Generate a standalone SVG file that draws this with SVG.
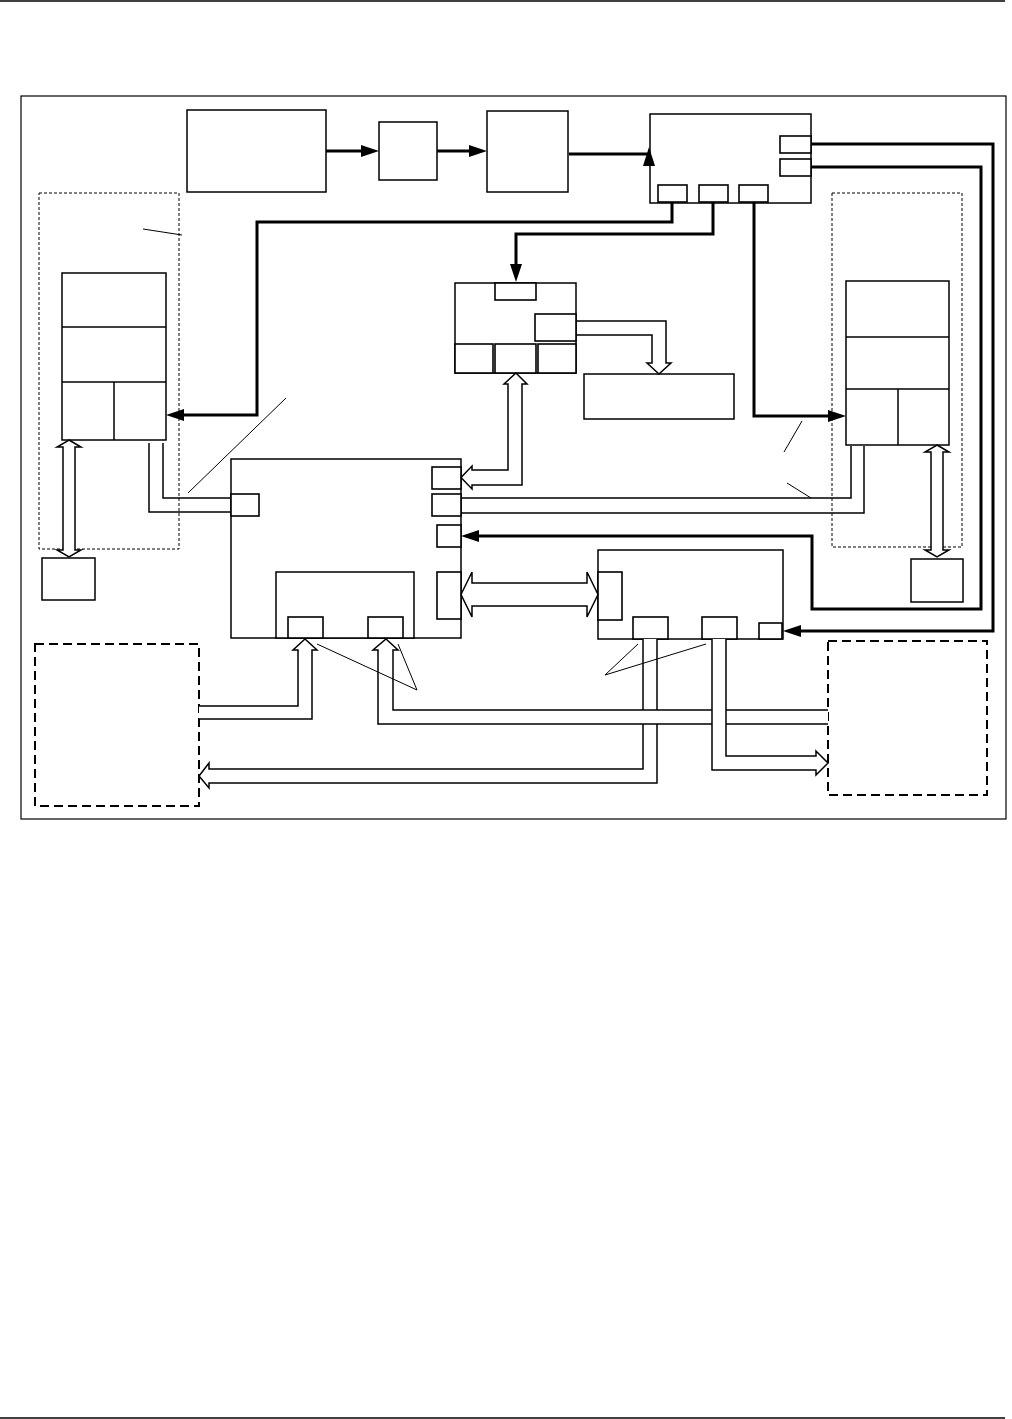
<svg xmlns="http://www.w3.org/2000/svg" width="1012" height="1419" viewBox="0 0 1012 1419">
<style>
.box{fill:#fff;stroke:#000;stroke-width:1.5}
.thin{fill:none;stroke:#000;stroke-width:1.2}
.port{fill:#fff;stroke:#000;stroke-width:1.6}
.dot{fill:none;stroke:#000;stroke-width:1;stroke-dasharray:3,2}
.dash{fill:none;stroke:#000;stroke-width:2;stroke-dasharray:9,5}
.bus{fill:none;stroke:#000;stroke-width:3;stroke-linejoin:miter}
.hollow{fill:#fff;stroke:#000;stroke-width:1.5;stroke-linejoin:miter}
.lead{fill:none;stroke:#000;stroke-width:1}
.line{fill:none;stroke:#000;stroke-width:1.5}
</style>
<defs>
<marker id="ah" markerUnits="userSpaceOnUse" markerWidth="18" markerHeight="12" refX="9" refY="6" orient="auto" viewBox="0 0 18 12">
<path d="M0,0 L18,6 L0,12 z" fill="#000"/>
</marker>
</defs>
<rect width="1012" height="1419" fill="#fff"/>
<line x1="0" y1="1" x2="1005" y2="1" stroke="#000" stroke-width="1.5"/>
<line x1="0" y1="1418" x2="1005" y2="1418" stroke="#000" stroke-width="1.5"/>
<rect id="frame" x="21" y="96" width="985" height="723" class="thin"/>

<g id="containers">
<rect x="39" y="193" width="140" height="356" class="dot"/>
<rect x="832" y="193" width="130" height="354" class="dot"/>
<rect x="35" y="644" width="164" height="162" class="dash"/>
<rect x="828" y="641" width="159" height="154" class="dash"/>
</g>

<g id="nodeA"><rect x="187" y="110" width="139" height="82" class="box"/></g>
<g id="nodeB"><rect x="379" y="122" width="58" height="58" class="box"/></g>
<g id="nodeC"><rect x="487" y="111" width="81" height="81" class="box"/></g>
<g id="nodeD">
<rect x="650" y="114" width="161" height="89" class="box"/>
<rect x="780" y="136" width="31" height="17" class="port"/>
<rect x="780" y="159" width="31" height="17" class="port"/>
<rect x="658" y="185" width="29" height="17" class="port"/>
<rect x="699" y="185" width="29" height="17" class="port"/>
<rect x="739" y="185" width="29" height="17" class="port"/>
</g>
<g id="nodeE">
<rect x="62" y="273" width="104" height="167" class="box"/>
<line x1="62" y1="327" x2="166" y2="327" class="line"/>
<line x1="62" y1="382" x2="166" y2="382" class="line"/>
<line x1="114" y1="382" x2="114" y2="440" class="line"/>
</g>
<g id="nodeE2">
<rect x="846" y="281" width="103" height="164" class="box"/>
<line x1="846" y1="337" x2="949" y2="337" class="line"/>
<line x1="846" y1="389" x2="949" y2="389" class="line"/>
<line x1="898" y1="389" x2="898" y2="445" class="line"/>
</g>
<g id="nodeE3"><rect x="42" y="558" width="53" height="42" class="box"/></g>
<g id="nodeE4"><rect x="911" y="559" width="52" height="43" class="box"/></g>
<g id="nodeF">
<rect x="455" y="283" width="121" height="90" class="box"/>
<rect x="495" y="283" width="41" height="17" class="port"/>
<rect x="535" y="314" width="41" height="27" class="port"/>
<rect x="455" y="344" width="38" height="29" class="port"/>
<rect x="495" y="344" width="41" height="29" class="port"/>
<rect x="538" y="344" width="38" height="29" class="port"/>
</g>
<g id="nodeJ"><rect x="584" y="374" width="150" height="45" class="box"/></g>
<g id="nodeH">
<rect x="231" y="459" width="230" height="179" class="box" stroke-width="1.2"/>
<rect x="231" y="494" width="28" height="22" class="port"/>
<rect x="432" y="467" width="29" height="22" class="port"/>
<rect x="432" y="494" width="29" height="22" class="port"/>
<rect x="437" y="525" width="24" height="22" class="port"/>
<rect x="437" y="572" width="24" height="47" class="port"/>
<rect x="276" y="572" width="138" height="66" class="box"/>
<rect x="288" y="617" width="35" height="21" class="port"/>
<rect x="368" y="617" width="35" height="21" class="port" stroke-width="2"/>
</g>
<g id="nodeG">
<rect x="598" y="550" width="185" height="89" class="box"/>
<rect x="598" y="572" width="24" height="48" class="port"/>
<rect x="633" y="617" width="35" height="22" class="port"/>
<rect x="702" y="617" width="35" height="22" class="port"/>
<rect x="759" y="623" width="23" height="16" class="port" stroke-width="2"/>
</g>

<g id="connectors">
<path class="bus" d="M326,151 H370" marker-end="url(#ah)"/>
<path class="bus" d="M437,151 H478" marker-end="url(#ah)"/>
<path class="bus" d="M569,154 H650"/>
<polygon points="649,147 643,166 655,166" fill="#000"/>
<path class="bus" d="M672,202 V222 H257 V415 H175" marker-end="url(#ah)"/>
<path class="bus" d="M713,202 V234 H516 V273" marker-end="url(#ah)"/>
<path class="bus" d="M754,202 V416 H837" marker-end="url(#ah)"/>
<path class="bus" d="M811,144 H993 V631 H792" marker-end="url(#ah)"/>
<path class="bus" d="M811,167 H981 V609 H812 V536 H470" marker-end="url(#ah)"/>

<polyline class="hollow" points="577,321 666,321 666,363 671,363 659,374 647,363 652,363 652,335 577,335"/>
<polygon class="hollow" points="504,384 516,373 527,384 522,384 522,485 472,485 472,489 461,477.5 472,466 472,470 508,470 508,384"/>
<polygon class="hollow" points="461,594.5 472,572 472,583 587,583 587,572 598,594.5 587,617 587,606 472,606 472,617"/>
<polygon class="hollow" points="69,440 81,447 75,447 75,550 81,550 69,557 57,550 63,550 63,447 57,447"/>
<polygon class="hollow" points="937,445 949,452 943,452 943,550 949,550 937,557 925,550 931,550 931,452 925,452"/>

<polyline class="line" points="149,443 149,512 231,512"/>
<polyline class="line" points="163,443 163,498 231,498"/>
<polyline class="line" points="461,498 851,498 851,446"/>
<polyline class="line" points="461,513 864,513 864,446"/>

<polyline class="hollow" points="199,706 298,706 298,650 293,650 305,639 317,650 312,650 312,719 199,719"/>
<polyline class="hollow" points="643,639 643,769 209,769 209,763 199,776 209,788 209,783 657,783 657,639"/>
<polyline class="hollow" points="828,724 378,724 378,650 373,650 386,639 398,650 393,650 393,710 828,710"/>
<polyline class="hollow" points="712,639 712,770 816,770 816,775 828,763 816,751 816,756 726,756 726,639"/>

<line class="lead" x1="143" y1="229" x2="182" y2="235"/>
<line class="lead" x1="188" y1="493" x2="286" y2="398"/>
<line class="lead" x1="802" y1="421" x2="784" y2="452"/>
<line class="lead" x1="787" y1="483" x2="811" y2="498"/>
<polyline class="lead" points="317,644 417,690 398,644"/>
<polyline class="lead" points="638,644 605,675 706,644"/>
</g>
</svg>
